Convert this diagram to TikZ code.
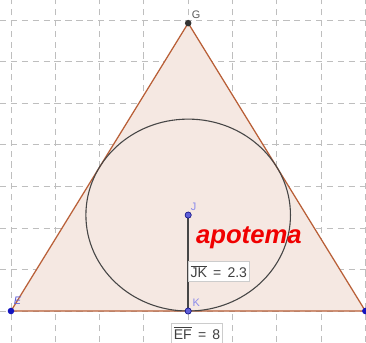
\documentclass[tikz,border=0pt]{standalone}
\usepackage{fontspec}
\setmainfont{Liberation Sans}
\definecolor{edgecol}{RGB}{185,95,55}
\definecolor{fillcol}{RGB}{245,232,226}
\definecolor{gridcol}{RGB}{190,190,190}
\definecolor{ptblue}{RGB}{20,20,190}
\definecolor{ptlight}{RGB}{95,95,215}
\definecolor{lbllight}{RGB}{140,140,235}
\definecolor{circcol}{RGB}{70,70,70}
\definecolor{apored}{RGB}{240,0,0}
\tikzset{
  gridline/.style={gridcol, dashed, dash pattern=on 4pt off 3pt, line width=0.5pt},
  bigpt/.style={circle, fill=ptblue, inner sep=0pt, minimum size=4.2pt},
  blackpt/.style={circle, fill=black!80, inner sep=0pt, minimum size=4.2pt},
  smallpt/.style={circle, fill=ptlight, draw=ptblue!70!black, line width=0.4pt, inner sep=0pt, minimum size=4pt},
  ptlabel/.style={font=\fontsize{7}{8}\selectfont, inner sep=0pt},
  valbox/.style={draw=black!20, fill=white, line width=0.5pt, font=\fontsize{9}{10}\selectfont, text=black!75, inner xsep=1.5pt, inner ysep=2.3pt}
}
\begin{document}
\begin{tikzpicture}[x=1cm, y=0.938cm]
\useasboundingbox[fill=white] (-0.248,-0.746) rectangle (8.014,7.485);
% grid
\foreach \i in {0,...,8} \draw[gridline] (\i,-0.746) -- (\i,7.485);
\foreach \j in {0,...,7} \draw[gridline] (-0.248,\j) -- (8.014,\j);
% points
\coordinate (E) at (0,0);
\coordinate (F) at (8,0);
\coordinate (G) at (4,6.928);
\coordinate (J) at (4,2.309);
\coordinate (K) at (4,0);
% triangle
\fill[fillcol] (E) -- (F) -- (G) -- cycle;
\draw[edgecol, line width=0.8pt, line join=miter] (E) -- (F) -- (G) -- cycle;
% incircle
\draw[circcol, line width=0.7pt] (J) ellipse [x radius=2.309cm, y radius=2.166cm];
% apothem
\draw[circcol, line width=1pt] (J) -- (K);
% point markers
\node[bigpt] (Ep) at (E) {};
\node[bigpt] (Fp) at (F) {};
\node[blackpt] (Gp) at (G) {};
\node[smallpt] (Jp) at (J) {};
\node[smallpt] (Kp) at (K) {};
% labels
\node[ptlabel, text=black!65] (Gl) at (4.18,7.12) {G};
\node[ptlabel, text=ptlight] (El) at (0.15,0.24) {\itshape E};
\node[ptlabel, text=lbllight] (Kl) at (4.18,0.2) {K};
\node[ptlabel, text=lbllight] (Jl) at (4.12,2.5) {J};
\node[text=apored, font=\fontsize{16.5}{18}\selectfont\bfseries\itshape, inner sep=0pt] (apo) at (5.37,1.76) {apotema};
\node[valbox] (jk) at (4.69,0.95) {$\overline{\hbox{JK}}$\, =\, 2.3};
\node[valbox] (ef) at (4.2,-0.53) {$\overline{\hbox{EF}}$\, =\, 8};
\end{tikzpicture}
\end{document}
